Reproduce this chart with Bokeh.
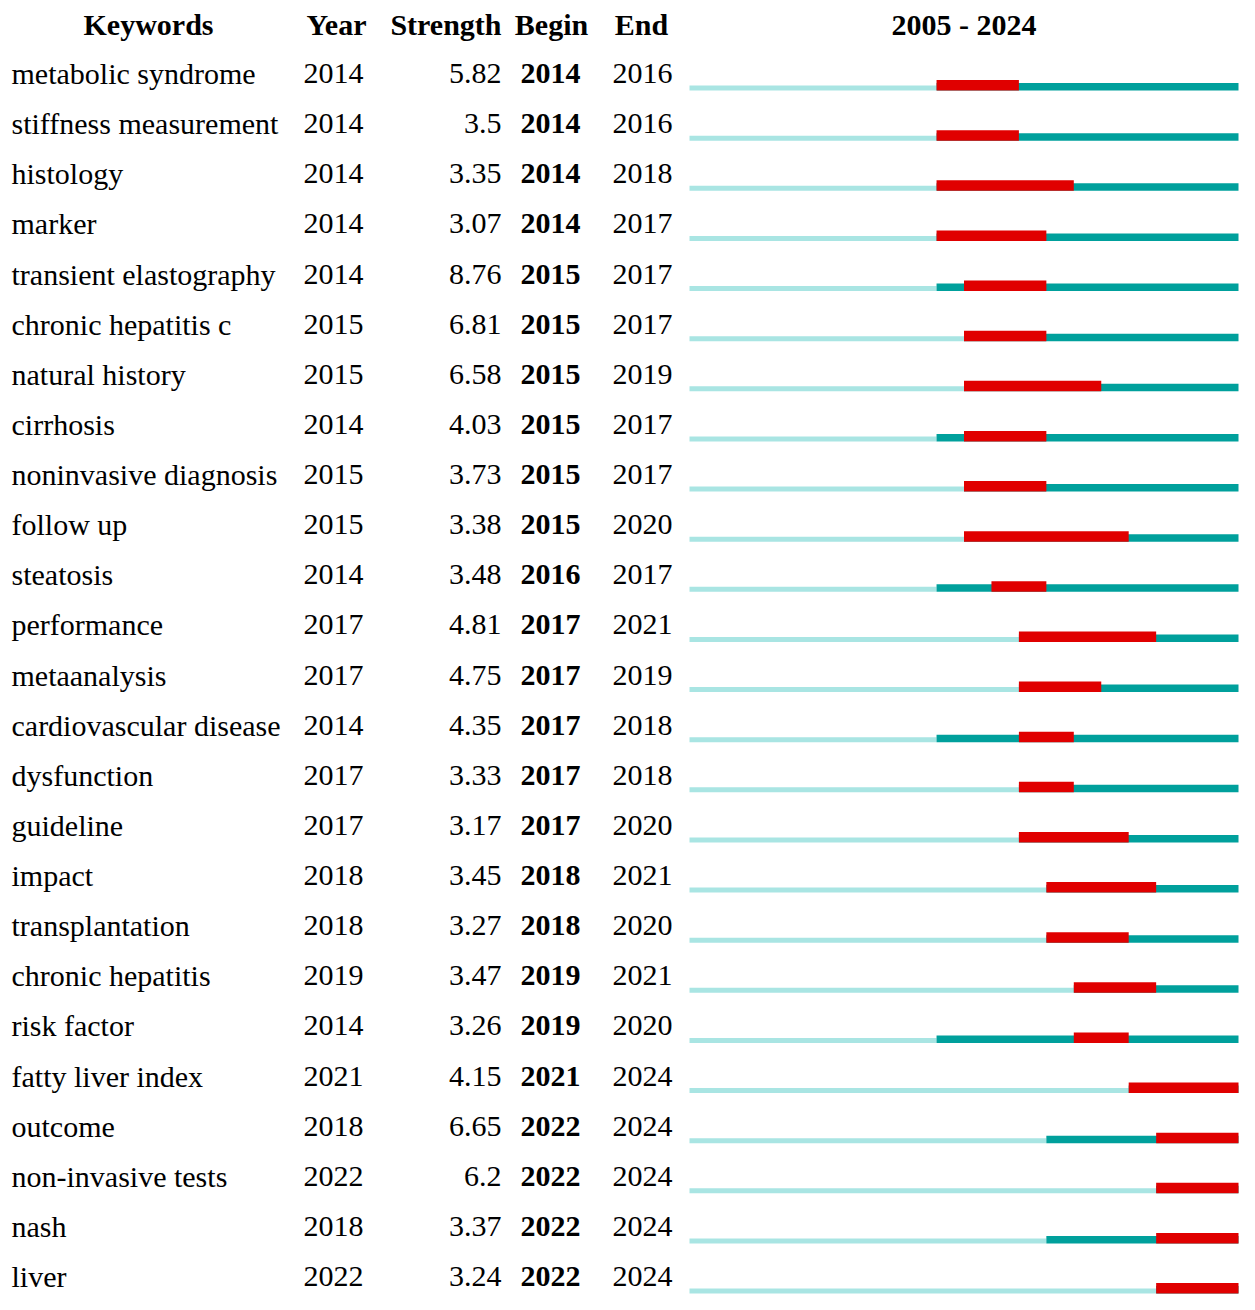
from bokeh.plotting import figure
from bokeh.models import Range1d, ColumnDataSource
from bokeh.core.properties import value
from bokeh.embed import file_html
from bokeh.resources import INLINE

# ---------------- data ----------------
keywords = ["metabolic syndrome", "stiffness measurement", "histology", "marker",
            "transient elastography", "chronic hepatitis c", "natural history",
            "cirrhosis", "noninvasive diagnosis", "follow up", "steatosis",
            "performance", "metaanalysis", "cardiovascular disease", "dysfunction",
            "guideline", "impact", "transplantation", "chronic hepatitis",
            "risk factor", "fatty liver index", "outcome", "non-invasive tests",
            "nash", "liver"]
year = [2014, 2014, 2014, 2014, 2014, 2015, 2015, 2014, 2015, 2015, 2014, 2017, 2017,
        2014, 2017, 2017, 2018, 2018, 2019, 2014, 2021, 2018, 2022, 2018, 2022]
strength = [5.82, 3.5, 3.35, 3.07, 8.76, 6.81, 6.58, 4.03, 3.73, 3.38, 3.48, 4.81, 4.75,
            4.35, 3.33, 3.17, 3.45, 3.27, 3.47, 3.26, 4.15, 6.65, 6.2, 3.37, 3.24]
begin = [2014, 2014, 2014, 2014, 2015, 2015, 2015, 2015, 2015, 2015, 2016, 2017, 2017,
         2017, 2017, 2017, 2018, 2018, 2019, 2019, 2021, 2022, 2022, 2022, 2022]
end = [2016, 2016, 2018, 2017, 2017, 2017, 2019, 2017, 2017, 2020, 2017, 2021, 2019,
       2018, 2018, 2020, 2021, 2020, 2021, 2020, 2024, 2024, 2024, 2024, 2024]
span_start, span_end = 2005, 2024
headers = ["Keywords", "Year", "Strength", "Begin", "End"]

# ---------------- layout / style ----------------
W, H = 1239, 1294
ROW_PX = 50.125        # pixels per row
ROW0_BOTTOM = 90       # px of first bar's bottom edge
YEAR_X0 = 689          # px where the time span starts
PPY = 27.45            # px per year
FONT = "Liberation Serif"
FS = "30px"
LIGHT, DARK, RED = "#a9e5e3", "#00a09c", "#e00000"
H_LIGHT, H_DARK, H_RED = 5 / ROW_PX, 7.4 / ROW_PX, 10.5 / ROW_PX

y_top = -ROW0_BOTTOM / ROW_PX
y_bottom = y_top + H / ROW_PX
yr0 = span_start - YEAR_X0 / PPY

p = figure(width=W, height=H, x_range=Range1d(0, W), y_range=Range1d(y_bottom, y_top),
           output_backend="svg", toolbar_location=None, min_border=0,
           x_axis_type=None, y_axis_type=None)
p.extra_x_ranges = {"years": Range1d(yr0, yr0 + W / PPY)}
p.grid.visible = False
p.outline_line_color = None
p.background_fill_color = "white"
p.border_fill_color = "white"

rows = list(range(len(keywords)))
src = ColumnDataSource(dict(
    row=rows, kw=keywords, year=year, ystr=[str(v) for v in year],
    strength=[str(v) for v in strength], begin=begin, bstr=[str(v) for v in begin],
    end=end, estr=[str(v) for v in end],
    end1=[e + 1 for e in end],
    start=[span_start] * len(rows), stop=[span_end + 1] * len(rows),
    top_l=[r - H_LIGHT for r in rows], top_d=[r - H_DARK for r in rows],
    top_r=[r - H_RED for r in rows],
))

# bars
p.quad(left="start", right="year", bottom="row", top="top_l", source=src,
       fill_color=LIGHT, line_color=None, x_range_name="years")
p.quad(left="year", right="stop", bottom="row", top="top_d", source=src,
       fill_color=DARK, line_color=None, x_range_name="years")
p.quad(left="begin", right="end1", bottom="row", top="top_r", source=src,
       fill_color=RED, line_color=None, x_range_name="years")

# table text
common = dict(source=src, y="row", y_offset=-17, text_baseline="alphabetic",
              text_font=value(FONT), text_font_size=FS, text_color="black")
p.text(x=11, text="kw", text_align="left", **common)
p.text(x=333, text="ystr", text_align="center", **common)
p.text(x=501, text="strength", text_align="right", **common)
p.text(x=550, text="bstr", text_align="center", text_font_style="bold", **common)
p.text(x=642, text="estr", text_align="center", **common)

# headers
hdr = dict(y=[-1], y_offset=-16, text_baseline="alphabetic", text_font=value(FONT),
           text_font_size=FS, text_font_style="bold", text_color="black")
p.text(x=[148], text=[headers[0]], text_align="center", **hdr)
p.text(x=[336], text=[headers[1]], text_align="center", **hdr)
p.text(x=[501], text=[headers[2]], text_align="right", **hdr)
p.text(x=[551], text=[headers[3]], text_align="center", **hdr)
p.text(x=[641], text=[headers[4]], text_align="center", **hdr)
p.text(x=[(span_start + span_end + 1) / 2], text=[f"{span_start} - {span_end}"],
       text_align="center", x_range_name="years", **hdr)

open("out.html", "w").write(file_html(p, INLINE))
